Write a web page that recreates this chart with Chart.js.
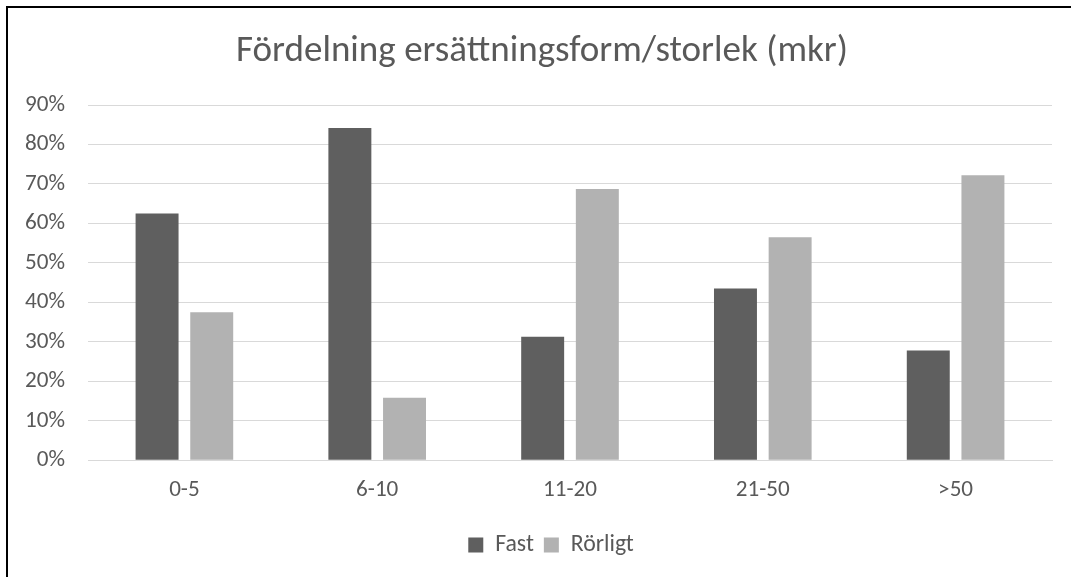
<!DOCTYPE html>
<html><head><meta charset="utf-8">
<script src="https://cdn.jsdelivr.net/npm/chart.js@4"></script>
<style>
html,body{margin:0;padding:0;background:#fff;overflow:hidden}
#wrap{position:absolute;left:0;top:0;width:1071px;height:577px;overflow:hidden}
#frame{position:absolute;left:6px;top:6px;width:1100px;height:620px;border:2px solid #000;box-sizing:border-box;pointer-events:none}
canvas{position:absolute;left:0;top:0}
</style></head><body>
<div id="wrap"><canvas id="c" width="1071" height="577"></canvas><div id="frame"></div></div>
<script>
const categories = ['0-5', '6-10', '11-20', '21-50', '>50'];
const seriesNames = ['Fast', 'Rörligt'];
const fastValues = [62.5, 84.2, 31.3, 43.5, 27.8];
const rorligtValues = [37.5, 15.8, 68.7, 56.5, 72.2];
const yTickValues = [0, 10, 20, 30, 40, 50, 60, 70, 80, 90];
const titleText = 'Fördelning ersättningsform/storlek (mkr)';

const FAMILY = 'Carlito, Calibri, Lato, sans-serif';
const TEXT = '#595959';
function fit(text, target) {
  const ctx = document.createElement('canvas').getContext('2d');
  ctx.font = '100px ' + FAMILY;
  return 100 * target / ctx.measureText(text).width;
}
const titleSize = fit(titleText, 612);
const tickSize = fit('90%', 40);
const legendSize = fit('Rörligt', 63);

const titlePadTop = 51.5 - titleSize * 0.6;
const titlePadBottom = 105 - (titlePadTop + titleSize * 1.2);

// shift title / legend horizontally to match the reference's centring
const shiftBlocks = {
  id: 'shiftBlocks',
  afterLayout(chart) {
    const t = chart.titleBlock;
    if (t) { t.left += 16; t.right += 16; }
    const l = chart.legend;
    if (l) { l.left += 25; l.right += 25; }
  }
};

new Chart(document.getElementById('c'), {
  type: 'bar',
  data: {
    labels: categories,
    datasets: [
      { label: seriesNames[0], data: fastValues, backgroundColor: '#5f5f5f', categoryPercentage: 0.567, barPercentage: 0.786 },
      { label: seriesNames[1], data: rorligtValues, backgroundColor: '#b2b2b2', categoryPercentage: 0.567, barPercentage: 0.786 }
    ]
  },
  plugins: [shiftBlocks],
  options: {
    responsive: false,
    animation: false,
    devicePixelRatio: 1,
    layout: { padding: { left: 0, right: 19, top: 0, bottom: 10 } },
    plugins: {
      title: {
        display: true, text: titleText, color: TEXT,
        font: { family: FAMILY, size: titleSize, weight: 'normal' },
        padding: { top: titlePadTop, bottom: titlePadBottom }
      },
      legend: {
        position: 'bottom',
        labels: { color: TEXT, font: { family: FAMILY, size: legendSize }, boxWidth: 15, boxHeight: 15, padding: 10 }
      },
      tooltip: { enabled: false }
    },
    scales: {
      x: {
        grid: { display: false },
        border: { color: '#d9d9d9', width: 1 },
        ticks: { color: TEXT, font: { family: FAMILY, size: tickSize }, padding: 8, maxRotation: 0 },
        afterFit(s) { s.height = 63; }
      },
      y: {
        min: 0, max: 90,
        afterBuildTicks(s) { s.ticks = yTickValues.map(v => ({ value: v })); },
        ticks: { color: TEXT, font: { family: FAMILY, size: tickSize }, padding: 23, callback: v => v + '%' },
        grid: { color: '#d9d9d9', drawTicks: false, lineWidth: 1 },
        border: { display: false },
        afterFit(s) { s.width = 88; }
      }
    }
  }
});
</script>
</body></html>
